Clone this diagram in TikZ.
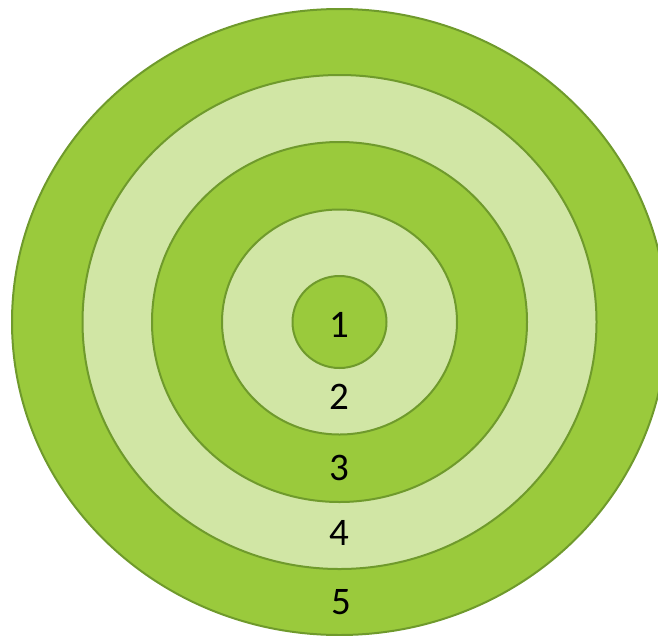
\documentclass[tikz,border=0pt]{standalone}
\usepackage{fontspec}
\setmainfont{Carlito}
\definecolor{RingDark}{HTML}{9ACA3C}
\definecolor{RingLight}{HTML}{D1E6A5}
\definecolor{RingEdge}{HTML}{6F9A2C}
\begin{document}
\begin{tikzpicture}[x=1pt,y=-1pt, ring/.style={draw=RingEdge,line width=2pt}, lbl/.style={font=\fontsize{39}{42}\selectfont,inner sep=0pt}]
    \useasboundingbox (0,0) rectangle (658,635);
    \clip (0,0) rectangle (658,635);
    % rings, outside in
    \foreach \rx/\ry/\col in {327.5/313/RingDark, 257/247/RingLight, 187.5/180/RingDark, 117.5/112.5/RingLight, 47/46/RingDark}
      \draw[ring,fill=\col] (339.5,322) ellipse[x radius=\rx, y radius=\ry];
    \node[lbl] (n1) at (339,325) {1};
    \node[lbl] (n2) at (339,397) {2};
    \node[lbl] (n3) at (339,468) {3};
    \node[lbl] (n4) at (339,533) {4};
    \node[lbl] (n5) at (341,602) {5};
  \end{tikzpicture}
\end{document}
